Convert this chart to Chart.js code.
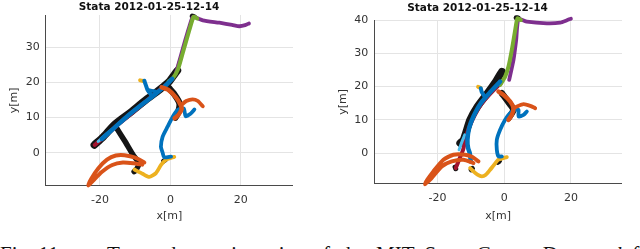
<!DOCTYPE html>
<html>
<head>
<meta charset="utf-8">
<script src="https://cdn.jsdelivr.net/npm/chart.js@4.4.1/dist/chart.umd.min.js"></script>
<style>
  html, body { margin: 0; padding: 0; background: #fff; width: 640px; height: 249px; overflow: hidden; }
  #leftChart { position: absolute; left: 5px; top: 0; }
  #rightChart { position: absolute; left: 333px; top: 0; }
  .caption { position: absolute; top: 243.5px; font-family: "Liberation Serif", "Times New Roman", serif; font-size: 21px; line-height: 20px; white-space: nowrap; color: #111; }
</style>
</head>
<body>
<canvas id="leftChart" width="288" height="225"></canvas>
<canvas id="rightChart" width="289" height="225"></canvas>
<div class="caption" style="left:0">Fig. 11.</div>
<div class="caption" style="left:107px; word-spacing:5px">Two robot trajectories of the MIT Stata Center Dataset <i>left</i> (</div>

<script>
// tick labels
const xTicks = [-20, 0, 20];
const leftYTicks = [0, 10, 20, 30];
const rightYTicks = [0, 10, 20, 30, 40];

// left plot trajectories, [x, y] in metres
const leftBlackMain = [[-21.6, 2.2], [-19, 4.6], [-16, 7.9], [-11.7, 11.2], [-7, 15], [-3.1, 17.9], [-0.3, 20.3], [1.1, 22.2], [2, 23.4]];
const leftBlackCross = [[-15.9, 8], [-13, 3.4], [-10.5, -0.8], [-8.9, -3], [-9.8, -5], [-10.3, -5.4]];
const leftBlackRight = [[-0.5, 18.5], [1.2, 16.5], [2.6, 14], [2.2, 11.5], [1.4, 10]];
const leftBlackDots = [[-1.9, -2.4], [-1.5, -2.1]];
const leftBlackTop = [[6.2, 38.9], [6.8, 38.7]];
const leftDarkRed = [[-21.5, 2.2], [-18, 5.2], [-14.5, 8.3], [-11, 11.2], [-7, 14.6], [-3.5, 17.5], [-1.2, 19.3]];
const leftLightBlue = [[-20.5, 3.2], [-18, 5.4], [-16, 7]];
const leftYellowTip = [[-8.6, 20.6], [-7.8, 20.4]];
const leftYellowUp = [[2.2, 25], [2.8, 26.8]];
const leftYellow = [[1.1, -1.2], [-1.2, -2], [-2.6, -3.4], [-4.1, -5.8], [-6, -6.9], [-7.9, -6], [-10.2, -4.8]];
const leftPurple = [[1.5, 22.5], [2.8, 27], [4.2, 32], [5.4, 36], [6.4, 38.6], [9.2, 37.7], [13.9, 37], [17.5, 36.4], [19.6, 36], [21.2, 36.3], [22.3, 36.8]];
const leftGreen = [[7.6, 38.2], [6.6, 38.7], [5.4, 35], [3.5, 28.4], [2.1, 23.6], [0.7, 21.2], [-0.5, 20.3]];
const leftBlueMain = [[-19.5, 3.9], [-16, 7], [-12, 10.6], [-8, 13.8], [-4.5, 16.5], [-1.5, 19], [0.5, 21]];
const leftBlueStub = [[-5.5, 16.5], [-6.5, 17.9], [-7, 19.3], [-7.4, 20.5]];
const leftBlueBar = [[-6.5, 17.9], [-4.1, 17.4]];
const leftBlue = [[0.2, -1.1], [-1.8, -1.3], [-2.2, 0], [-2.7, 1.7], [-2.2, 4.6], [-0.8, 7.4], [0.7, 10.3], [2.1, 12.2], [3.8, 12.6], [4.3, 10.4], [5.6, 11], [6.8, 12.3]];
const leftOrangeLow = [[-7.4, -2.8], [-10, -1.4], [-13, -0.7], [-15.5, -0.8], [-18, -2], [-20.5, -4.5], [-22.5, -7.5], [-23.3, -9.3], [-22, -8], [-19.5, -5.5], [-16.5, -3.5], [-13.5, -2.8], [-10.5, -3], [-8, -3.4]];
const leftOrangeUp = [[-2.5, 18.6], [-0.5, 17.8], [1.5, 15.8], [2.8, 13.8], [3.2, 12.5], [2.3, 10.8], [1.2, 9.8]];
const leftOrangeBranch = [[3, 13.5], [4.5, 14.7], [6.3, 15.2], [7.8, 14.7], [9.2, 13.2]];

// right plot trajectories
const rightBlackMain = [[-0.7, 24.5], [-2.5, 21.5], [-5, 18], [-8, 14], [-10.2, 10], [-11.5, 6], [-12.2, 4], [-13.2, 3]];
const rightBlackRight = [[-0.7, 18], [1.5, 15], [2.8, 13], [1.3, 10.5]];
const rightBlackDots1 = [[-14.7, -4.2], [-14.5, -4.7]];
const rightBlackDots2 = [[-9.9, -5], [-9.5, -4.6]];
const rightBlackDots3 = [[-1.9, -2.8], [-1.4, -2.4]];
const rightBlackTop = [[3.6, 40.7], [4.2, 40.6]];
const rightDarkRed = [[-1, 21], [-4, 18], [-7, 14.5], [-9.5, 10], [-11.3, 5.5], [-12.3, 1], [-13.5, -2], [-14.5, -4.5]];
const rightLightBlue = [[-13.5, 1], [-12.8, 3], [-11.8, 5.5]];
const rightYellowTip = [[-7.8, 19.9], [-7.1, 19.6]];
const rightYellowUp = [[1.5, 26], [1.9, 27.6]];
const rightYellow = [[0.8, -1.2], [-1.7, -2], [-3, -3.5], [-4.2, -5], [-5.5, -6.5], [-6.7, -7], [-8, -6.5], [-9.2, -5.5], [-10.2, -4.5]];
const rightPurple = [[1.5, 22], [2.8, 28], [3.6, 34], [4.3, 40.3], [6.8, 39.5], [12.8, 39], [16.8, 39.2], [18.8, 39.9], [20, 40.4]];
const rightGreen = [[5, 40], [4, 40.5], [3.3, 37], [2.3, 31], [1.3, 26], [0.3, 23], [-1.2, 20.5]];
const rightBlueMain = [[-1.2, 21.5], [-4, 18.5], [-7, 15], [-9.2, 11], [-10.5, 7.5], [-11, 4], [-10.8, 1.5], [-10.3, 0], [-10, -2.5]];
const rightBlueStub = [[-5.8, 17], [-6.7, 18.3], [-7, 19.5]];
const rightBlue = [[-0.7, -1], [-1.7, -1], [-2.2, 1], [-2.2, 4], [-1.2, 7], [0.3, 10], [1.8, 12], [3.3, 13], [4.3, 13], [4.3, 11], [5.8, 11.5], [6.8, 12.5]];
const rightOrangeLow = [[-7.7, -2.5], [-9.5, -1.2], [-11.7, -0.5], [-15.2, -0.5], [-18.2, -2], [-21.2, -5.5], [-23, -8], [-23.7, -9.3], [-22.2, -8], [-18.7, -4], [-15.7, -2.5], [-12.2, -2], [-9.2, -3]];
const rightOrangeUp = [[-1.7, 18.5], [-0.2, 17.5], [1.8, 15.5], [2.8, 13.5], [2.3, 11.5], [1.3, 10]];
const rightOrangeBranch = [[2.8, 13.5], [3.8, 14], [5.8, 14.7], [7.8, 14.2], [9.3, 13.5]];

const BLUE = '#0072BD', ORANGE = '#D95319', YELLOW = '#EDB120', PURPLE = '#7E2F8E',
      GREEN = '#77AC30', LIGHTBLUE = '#4DBEEE', DARKRED = '#A2142F', BLACK = '#151515';

function line(points, color, width) {
    return {
        data: points.map(p => ({ x: p[0], y: p[1] })),
        borderColor: color,
        backgroundColor: color,
        borderWidth: width,
        showLine: true,
        pointRadius: 0,
        tension: 0.2,
        borderCapStyle: 'round',
        borderJoinStyle: 'round',
        fill: false,
        clip: 5
    };
}

function makeChart(id, opts) {
    const font = { family: 'DejaVu Sans', size: 11 };
    // datasets listed bottom to top, Chart.js paints index 0 last so reverse
    const datasets = opts.layers.map(l => line(l[0], l[1], l[2])).reverse();
    return new Chart(document.getElementById(id), {
        type: 'scatter',
        data: { datasets: datasets },
        options: {
            responsive: false,
            animation: false,
            layout: { padding: 0 },
            plugins: {
                legend: { display: false },
                tooltip: { enabled: false },
                title: {
                    display: true,
                    text: 'Stata 2012-01-25-12-14',
                    color: '#111',
                    font: { family: 'DejaVu Sans', size: 10.5, weight: 'bold', lineHeight: 1.2 },
                    padding: opts.titlePad
                }
            },
            scales: {
                x: {
                    type: 'linear',
                    min: opts.xMin,
                    max: opts.xMax,
                    afterBuildTicks: s => { s.ticks = xTicks.map(v => ({ value: v })); },
                    afterFit: s => { s.height = opts.xAxisH; },
                    grid: { color: '#e4e4e4', drawTicks: false },
                    border: { color: '#4a4a4a', width: 1 },
                    ticks: { color: '#333', font: font, padding: 8 },
                    title: { display: true, text: 'x[m]', color: '#333', font: font, padding: { top: 0, bottom: 2.4 } }
                },
                y: {
                    type: 'linear',
                    min: opts.yMin,
                    max: opts.yMax,
                    afterBuildTicks: s => { s.ticks = opts.yTicks.map(v => ({ value: v })); },
                    afterFit: s => { s.width = opts.yAxisW; },
                    grid: { color: '#e4e4e4', drawTicks: false },
                    border: { color: '#4a4a4a', width: 1 },
                    ticks: { color: '#333', font: font, padding: 6 },
                    title: { display: true, text: 'y[m]', color: '#333', font: font, padding: { top: opts.yTitlePad, bottom: 0 } }
                }
            }
        }
    });
}

makeChart('leftChart', {
    xMin: -35.4, xMax: 34.8, yMin: -9.4, yMax: 39.2,
    yTicks: leftYTicks,
    xAxisH: 39.3, yAxisW: 40.7, yTitlePad: 2.4,
    titlePad: { top: 1, bottom: 1.4 },
    layers: [
        [leftBlackMain, BLACK, 7.5],
        [leftBlackCross, BLACK, 5.5],
        [leftBlackRight, BLACK, 6.5],
        [leftBlackDots, BLACK, 5],
        [leftBlackTop, BLACK, 5],
        [leftDarkRed, DARKRED, 4],
        [leftLightBlue, LIGHTBLUE, 3],
        [leftYellowTip, YELLOW, 4],
        [leftYellowUp, YELLOW, 3],
        [leftYellow, YELLOW, 3.8],
        [leftPurple, PURPLE, 3.8],
        [leftGreen, GREEN, 4],
        [leftBlueMain, BLUE, 4.5],
        [leftBlueStub, BLUE, 4],
        [leftBlueBar, BLUE, 3.5],
        [leftBlue, BLUE, 3.8],
        [leftOrangeLow, ORANGE, 4],
        [leftOrangeUp, ORANGE, 4.5],
        [leftOrangeBranch, ORANGE, 3.8]
    ]
});

makeChart('rightChart', {
    xMin: -38.9, xMax: 35.3, yMin: -9.2, yMax: 40,
    yTicks: rightYTicks,
    xAxisH: 41.3, yAxisW: 41.3, yTitlePad: 3.9,
    titlePad: { top: 1.5, bottom: 5.9 },
    layers: [
        [rightBlackMain, BLACK, 7.5],
        [rightBlackRight, BLACK, 6.5],
        [rightBlackDots1, BLACK, 5],
        [rightBlackDots2, BLACK, 5],
        [rightBlackDots3, BLACK, 5],
        [rightBlackTop, BLACK, 5],
        [rightDarkRed, DARKRED, 4],
        [rightLightBlue, LIGHTBLUE, 3],
        [rightYellowTip, YELLOW, 4],
        [rightYellowUp, YELLOW, 3],
        [rightYellow, YELLOW, 3.8],
        [rightPurple, PURPLE, 3.8],
        [rightGreen, GREEN, 4],
        [rightBlueMain, BLUE, 4.5],
        [rightBlueStub, BLUE, 4],
        [rightBlue, BLUE, 3.8],
        [rightOrangeLow, ORANGE, 4],
        [rightOrangeUp, ORANGE, 4.5],
        [rightOrangeBranch, ORANGE, 3.8]
    ]
});
</script>
</body>
</html>
